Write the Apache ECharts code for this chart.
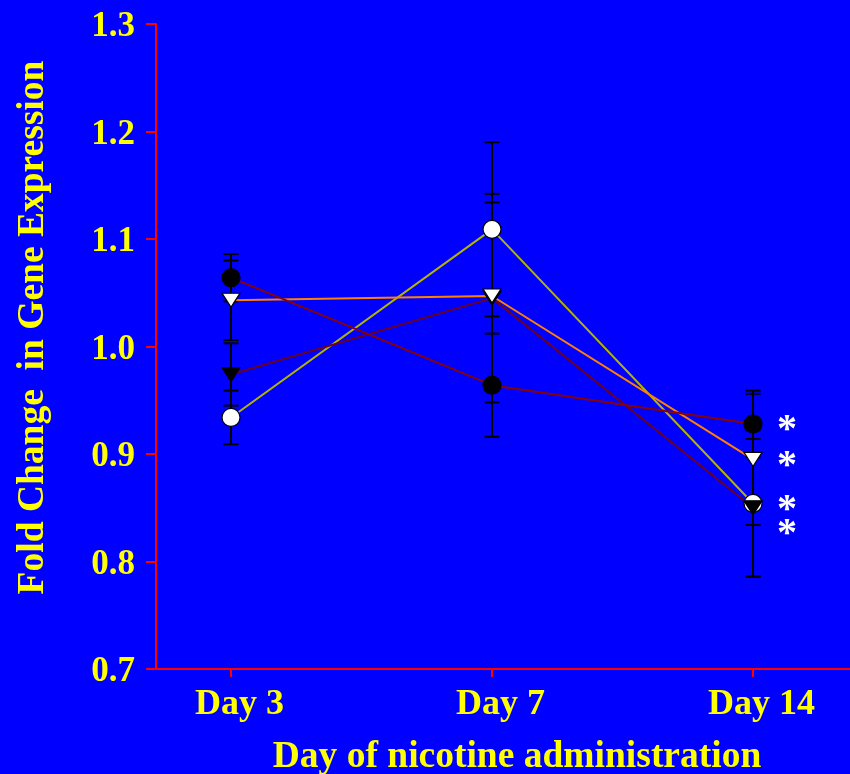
<!DOCTYPE html>
<html>
<head>
<meta charset="utf-8">
<script src="https://cdn.jsdelivr.net/npm/echarts@6/dist/echarts.min.js"></script>
<style>
  html, body { margin: 0; padding: 0; background: #0000ff; overflow: hidden; }
  #chart { width: 850px; height: 774px; }
</style>
</head>
<body>
<div id="chart"></div>
<script>
// Time points (category positions on a numeric x axis)
const days = ['Day 3', 'Day 7', 'Day 14'];
const dayPos = [1, 2, 3];

// Fold-change means and error half-widths, one pair of arrays per group
const filledCircleMean = [1.064, 0.964, 0.928];
const filledCircleErr  = [0.022, 0.048, 0.031];

const openTriangleMean = [1.043, 1.047, 0.895];
const openTriangleErr  = [0.037, 0.087, 0.061];

const filledTriangleMean = [0.974, 1.045, 0.850];
const filledTriangleErr  = [0.029, 0.097, 0.064];

const openCircleMean = [0.934, 1.109, 0.854];
const openCircleErr  = [0.025, 0.081, 0.068];

// Significance markers at Day 14
const sigMark = '*';

const yTicks = [0.7, 0.8, 0.9, 1.0, 1.1, 1.2, 1.3];

const FONT = '"Liberation Serif", "Times New Roman", serif';
const YELLOW = '#ffff00';
const AXIS_RED = '#ff0000';

function pairs(mean) {
  return mean.map((v, i) => [dayPos[i], v]);
}
function errData(mean, err) {
  return mean.map((v, i) => [dayPos[i], v - err[i], v + err[i]]);
}

function errorBarSeries(mean, err) {
  return {
    type: 'custom',
    z: 1,
    silent: true,
    data: errData(mean, err),
    renderItem: function (params, api) {
      const x = api.value(0);
      const lo = api.coord([x, api.value(1)]);
      const hi = api.coord([x, api.value(2)]);
      const half = 7.5;
      const style = { stroke: '#000000', lineWidth: 2 };
      return {
        type: 'group',
        children: [
          { type: 'line', shape: { x1: lo[0], y1: lo[1], x2: hi[0], y2: hi[1] }, style: style },
          { type: 'line', shape: { x1: lo[0] - half, y1: lo[1], x2: lo[0] + half, y2: lo[1] }, style: style },
          { type: 'line', shape: { x1: hi[0] - half, y1: hi[1], x2: hi[0] + half, y2: hi[1] }, style: style }
        ]
      };
    }
  };
}

function lineSeries(mean, color, symbol, fill, sigOffsetY) {
  const data = pairs(mean);
  const last = data.length - 1;
  const items = data.map((d, i) => {
    if (i !== last) return { value: d };
    return {
      value: d,
      label: {
        show: true,
        formatter: sigMark,
        position: 'inside',
        offset: [34, 7 + sigOffsetY],
        color: '#ffffff',
        fontFamily: FONT,
        fontWeight: 'bold',
        fontSize: 40
      }
    };
  });
  const isTri = symbol === 'triangle';
  return {
    type: 'line',
    z: 3,
    data: items,
    symbol: symbol,
    symbolSize: isTri ? [18, 14] : 18,
    symbolRotate: isTri ? 180 : 0,
    showSymbol: true,
    lineStyle: { color: color, width: 2 },
    itemStyle: { color: fill, borderColor: '#000000', borderWidth: 1.2, opacity: 1 },
    emphasis: { disabled: true },
    animation: false
  };
}

const chart = echarts.init(document.getElementById('chart'), null, { renderer: 'canvas' });

chart.setOption({
  backgroundColor: '#0000ff',
  animation: false,
  grid: { left: 156, right: 0, top: 24, bottom: 105, outerBoundsMode: 'none', containLabel: false },
  xAxis: {
    type: 'value',
    min: 0.7126,
    max: 3.3716,
    splitLine: { show: false },
    axisLine: { show: true, onZero: false, lineStyle: { color: AXIS_RED, width: 2 } },
    axisTick: { show: true, length: 8, lineStyle: { color: AXIS_RED, width: 2 }, customValues: dayPos },
    axisLabel: {
      customValues: dayPos,
      formatter: function (v) { return days[dayPos.indexOf(Math.round(v))] || ''; },
      color: YELLOW, fontFamily: FONT, fontWeight: 'bold', fontSize: 36,
      margin: 18, padding: [0, 0, 0, 17]
    },
    name: 'Day of nicotine administration',
    nameLocation: 'middle',
    nameGap: 69,
    nameTextStyle: { color: YELLOW, fontFamily: FONT, fontWeight: 'bold', fontSize: 37.5, padding: [0, 0, 0, 28] }
  },
  yAxis: {
    type: 'value',
    min: yTicks[0],
    max: yTicks[yTicks.length - 1],
    interval: 0.1,
    splitLine: { show: false },
    axisLine: { show: true, onZero: false, lineStyle: { color: AXIS_RED, width: 2 } },
    axisTick: { show: true, length: 10, lineStyle: { color: AXIS_RED, width: 2 } },
    axisLabel: {
      formatter: function (v) { return v.toFixed(1); },
      color: YELLOW, fontFamily: FONT, fontWeight: 'bold', fontSize: 35, margin: 21,
      verticalAlign: 'top', lineHeight: 6
    },
    name: 'Fold Change  in Gene Expression',
    nameLocation: 'middle',
    nameGap: 104,
    nameTextStyle: { color: YELLOW, fontFamily: FONT, fontWeight: 'bold', fontSize: 37.5, padding: [0, 0, 0, 38] }
  },
  series: [
    errorBarSeries(openCircleMean, openCircleErr),
    errorBarSeries(filledTriangleMean, filledTriangleErr),
    errorBarSeries(openTriangleMean, openTriangleErr),
    errorBarSeries(filledCircleMean, filledCircleErr),
    lineSeries(openCircleMean, '#b4b400', 'circle', '#ffffff', 0),
    lineSeries(filledTriangleMean, '#6a0020', 'triangle', '#000000', 20),
    lineSeries(openTriangleMean, '#ff8000', 'triangle', '#ffffff', 0),
    lineSeries(filledCircleMean, '#880000', 'circle', '#000000', 0)
  ]
});
</script>
</body>
</html>
